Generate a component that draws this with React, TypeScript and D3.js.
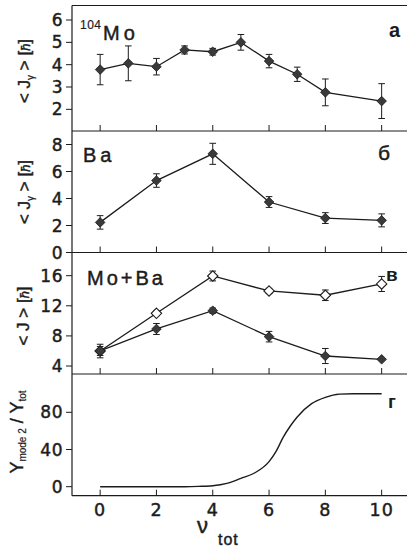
import React from 'react';
import * as d3 from 'd3';

const xTicks = [0, 2, 4, 6, 8, 10];

const moX = [0, 1, 2, 3, 4, 5, 6, 7, 8, 10];
const moY = [3.78, 4.06, 3.91, 4.66, 4.58, 5.0, 4.16, 3.57, 2.76, 2.37];
const moErr = [0.68, 0.78, 0.37, 0.18, 0.15, 0.35, 0.3, 0.32, 0.6, 0.78];
const moTicks = [2, 3, 4, 5, 6];

const baX = [0, 2, 4, 6, 8, 10];
const baY = [2.23, 5.33, 7.31, 3.74, 2.55, 2.38];
const baErr = [0.5, 0.5, 0.78, 0.4, 0.4, 0.48];
const baTicks = [0, 2, 4, 6, 8];

const sumX = [0, 2, 4, 6, 8, 10];
const sumOpenY = [5.99, 11.0, 15.96, 13.97, 13.4, 14.9];
const sumOpenErr = [0.9, 0.3, 0.65, 0.35, 0.7, 1.0];
const sumFillY = [6.0, 8.92, 11.35, 7.9, 5.33, 4.89];
const sumFillErr = [0.6, 0.73, 0.35, 0.7, 1.0, 0.1];
const sumTicks = [4, 8, 12, 16];

const fracX = [0, 1, 2, 3, 3.5, 4, 4.5, 5, 5.5, 6, 6.25, 6.5, 6.75, 7, 7.5, 8, 8.5, 9, 9.5, 10];
const fracY = [0, 0, 0, 0, 0.3, 1, 3.5, 9, 15, 27, 38, 53, 65, 75, 89, 96, 99.5, 100, 100, 100];
const fracTicks = [0, 40, 80];

const W = 407;
const H = 550;
const LEFT = 72;
const RIGHT = 409.8;
const INK = '#1c1c1c';
const FONT = '"Liberation Sans", Arial, sans-serif';
const TICKFONT = '"DejaVu Sans", "Liberation Sans", sans-serif';
const TS = 0.45; // text stroke to mimic heavier print

const x = d3.scaleLinear().domain([-1, 11]).range([LEFT, RIGHT]);

const panels = [
  { top: 5.5, bottom: 131, domain: [1.03, 6.65], ticks: moTicks },
  { top: 131, bottom: 252.5, domain: [0, 9.0], ticks: baTicks },
  { top: 252.5, bottom: 374, domain: [2.94, 19.08], ticks: sumTicks },
  { top: 374, bottom: 495.7, domain: [-9.7, 121.2], ticks: fracTicks },
];
const ys = panels.map((p) => d3.scaleLinear().domain(p.domain).range([p.bottom, p.top]));

const diamond = (r: number) => `M0,${-r}L${r},0L0,${r}L${-r},0Z`;

function Series({ xs, vals, errs, y, open }: any) {
  const line = d3.line<number>().x((_, i) => x(xs[i])).y((v) => y(v));
  return (
    <g>
      <path d={line(vals) || ''} fill="none" stroke={INK} strokeWidth={1.3} />
      {vals.map((v: number, i: number) => {
        const cx = x(xs[i]);
        const y1 = y(v + errs[i]);
        const y2 = y(v - errs[i]);
        return (
          <g key={i}>
            <line x1={cx} x2={cx} y1={y1} y2={y2} stroke={INK} strokeWidth={1} />
            <line x1={cx - 3.3} x2={cx + 3.3} y1={y1} y2={y1} stroke={INK} strokeWidth={1} />
            <line x1={cx - 3.3} x2={cx + 3.3} y1={y2} y2={y2} stroke={INK} strokeWidth={1} />
          </g>
        );
      })}
      {vals.map((v: number, i: number) => (
        <path
          key={'m' + i}
          d={diamond(open ? 5.2 : 4.8)}
          transform={`translate(${x(xs[i])},${y(v)})`}
          fill={open ? '#fff' : '#3a3a3a'}
          stroke={INK}
          strokeWidth={open ? 1.1 : 0.8}
        />
      ))}
    </g>
  );
}

export default function App() {
  const frac = d3
    .line<number>()
    .x((_, i) => x(fracX[i]))
    .y((v) => ys[3](v))
    .curve(d3.curveMonotoneX);

  const txt = { fill: INK, stroke: INK, strokeWidth: TS };

  return (
    <svg
      width={W}
      height={H}
      style={{ position: 'absolute', left: 0, top: 0, background: '#fff' }}
      fontFamily={FONT}
    >
      <rect x={0} y={0} width={W} height={H} fill="#fff" />
      {/* frames */}
      <line x1={LEFT} x2={LEFT} y1={panels[0].top} y2={panels[3].bottom} stroke={INK} strokeWidth={1.2} />
      {[panels[0].top, ...panels.map((p) => p.bottom)].map((yy, i) => (
        <line key={i} x1={LEFT} x2={RIGHT} y1={yy} y2={yy} stroke={INK} strokeWidth={1.2} />
      ))}
      {/* x ticks per panel (inward) */}
      {panels.map((p, pi) =>
        xTicks.map((t) => (
          <line key={pi + '-' + t} x1={x(t)} x2={x(t)} y1={p.bottom} y2={p.bottom - 6} stroke={INK} strokeWidth={1} />
        ))
      )}
      {/* y ticks + labels */}
      {panels.map((p, pi) =>
        p.ticks.map((t) => (
          <g key={'y' + pi + '-' + t}>
            <line x1={LEFT - 6} x2={LEFT} y1={ys[pi](t)} y2={ys[pi](t)} stroke={INK} strokeWidth={1} />
            <text x={LEFT - 9} y={ys[pi](t)} dy="0.36em" textAnchor="end" fontFamily={TICKFONT} fontSize={17} letterSpacing={0.5} {...txt}>
              {t}
            </text>
          </g>
        ))
      )}
      {/* x tick labels */}
      {xTicks.map((t) => (
        <text key={'xl' + t} x={x(t)} y={516} textAnchor="middle" fontFamily={TICKFONT} fontSize={17.5} letterSpacing={1} {...txt}>
          {t}
        </text>
      ))}
      {/* x title */}
      <text x={197} y={533} fontSize={22} {...txt}>
        ν
      </text>
      <text x={218} y={545} fontSize={16} letterSpacing={1} {...txt}>
        tot
      </text>

      {/* series */}
      <Series xs={moX} vals={moY} errs={moErr} y={ys[0]} />
      <Series xs={baX} vals={baY} errs={baErr} y={ys[1]} />
      <Series xs={sumX} vals={sumOpenY} errs={sumOpenErr} y={ys[2]} open />
      <Series xs={sumX} vals={sumFillY} errs={sumFillErr} y={ys[2]} />
      <path d={frac(fracY) || ''} fill="none" stroke={INK} strokeWidth={1.4} />

      {/* panel annotations */}
      <text x={80} y={29} fontSize={12} letterSpacing={0.5} fill={INK} stroke={INK} strokeWidth={0.2}>104</text>
      <text x={103} y={40} fontSize={20} letterSpacing={4} {...txt}>Mo</text>
      <text x={83} y={162} fontSize={20} letterSpacing={4} {...txt}>Ba</text>
      <text x={87} y={285} fontSize={20} letterSpacing={3} {...txt}>Mo+Ba</text>
      <text x={389} y={37} fontSize={20} fontWeight="bold" fill={INK}>a</text>
      <text x={378} y={160} fontSize={21} {...txt}>б</text>
      <text x={386} y={281} fontSize={19} fontWeight="bold" fill={INK}>в</text>
      <text x={388} y={408} fontSize={19} fontWeight="bold" fill={INK}>г</text>

      {/* y titles */}
      <text transform="translate(30,71) rotate(-90)" textAnchor="middle" fontSize={17} {...txt}>
        {'< J'}
        <tspan fontSize={10} dy={4} strokeWidth={0.2}>γ</tspan>
        <tspan dy={-4}>{' > ['}</tspan>
        <tspan fontStyle="italic" fontSize={13}>ħ</tspan>
        <tspan>]</tspan>
      </text>
      <text transform="translate(30,192) rotate(-90)" textAnchor="middle" fontSize={17} {...txt}>
        {'< J'}
        <tspan fontSize={10} dy={4} strokeWidth={0.2}>γ</tspan>
        <tspan dy={-4}>{' > ['}</tspan>
        <tspan fontStyle="italic" fontSize={13}>ħ</tspan>
        <tspan>]</tspan>
      </text>
      <text transform="translate(29,316) rotate(-90)" textAnchor="middle" fontSize={17} {...txt}>
        {'< J > ['}
        <tspan fontStyle="italic" fontSize={13}>ħ</tspan>
        <tspan>]</tspan>
      </text>
      <text transform="translate(23,432) rotate(-90)" textAnchor="middle" fontSize={18} {...txt}>
        Y
        <tspan fontSize={10} dy={3} strokeWidth={0.2}>mode 2</tspan>
        <tspan dy={-3}> / Y</tspan>
        <tspan fontSize={10} dy={3} strokeWidth={0.2}>tot</tspan>
      </text>
    </svg>
  );
}
